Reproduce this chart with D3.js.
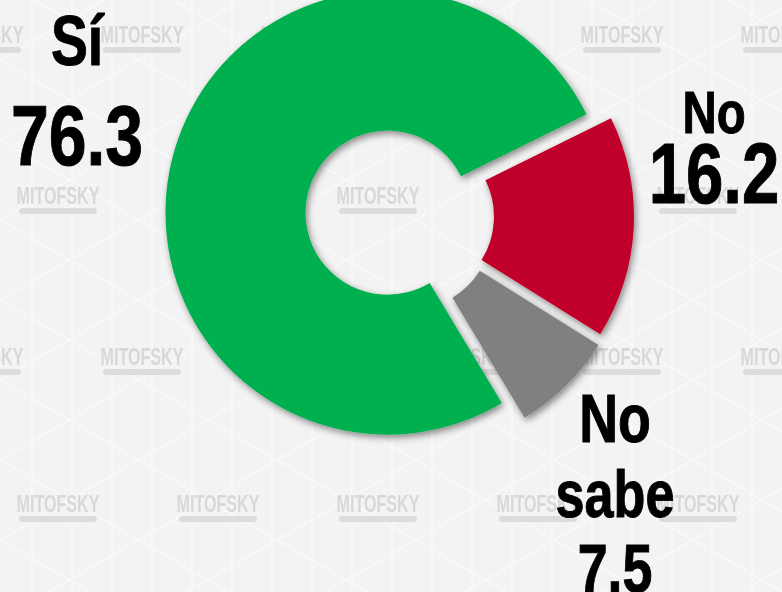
<!DOCTYPE html>
<html>
<head>
<meta charset="utf-8">
<script src="https://cdn.jsdelivr.net/npm/d3@7"></script>
<style>
  html, body { margin: 0; padding: 0; background: #f3f3f3; }
  svg { display: block; }
</style>
</head>
<body>
<svg id="chart" width="782" height="592"></svg>
<script>
// ---- data ----
const categories = ["Sí", "No", "No sabe"];
const values = [76.3, 16.2, 7.5];
const valueLabels = ["76.3", "16.2", "7.5"];
const nameLines = [["Sí"], ["No"], ["No", "sabe"]];
const colors = ["#00B050", "#C00029", "#808080"];
const watermarkText = "MITOFSKY";

// ---- layout ----
const W = 782, H = 592;
const center = [399, 216];
const outerR = 222, innerR = 82;
const startDeg = 149;
const explode = [12, 13, 16];
const xScale = 0.79; // condensed bold face
const labelLayout = [
  { x: 77,  lines: [{ y: 65, size: 70 }, { y: 165, size: 86 }] },
  { x: 714, lines: [{ y: 133, size: 60 }, { y: 203, size: 85 }] },
  { x: 615, lines: [{ y: 442, size: 68 }, { y: 517, size: 66 }, { y: 592, size: 68 }] }
];

const svg = d3.select("#chart");
const defs = svg.append("defs");

const f = defs.append("filter").attr("id", "shadow")
  .attr("x", "-20%").attr("y", "-20%").attr("width", "140%").attr("height", "140%");
f.append("feDropShadow").attr("dx", 2).attr("dy", 3).attr("stdDeviation", 3.5)
  .attr("flood-color", "#000").attr("flood-opacity", 0.45);

const wmBlur = defs.append("filter").attr("id", "wmblur");
wmBlur.append("feGaussianBlur").attr("stdDeviation", 0.6);

// background
svg.append("rect").attr("width", W).attr("height", H).attr("fill", "#f3f3f3");

// faint triangle lattice
const lattice = svg.append("g").attr("stroke", "#ffffff").attr("stroke-width", 1.4).attr("opacity", 0.55);
const step = 80;
const t = Math.tan(Math.PI / 6);
for (let x = 32; x < W; x += step / 2) {
  lattice.append("line").attr("x1", x).attr("y1", 0).attr("x2", x).attr("y2", H);
}
for (let k = -20; k < 30; k++) {
  const y0 = k * step - 20;
  lattice.append("line").attr("x1", 0).attr("y1", y0).attr("x2", W).attr("y2", y0 + W * t);
  lattice.append("line").attr("x1", 0).attr("y1", y0).attr("x2", W).attr("y2", y0 - W * t);
}

// watermarks
const wm = svg.append("g").attr("filter", "url(#wmblur)");
const rowsY = [43, 204, 365, 512];
rowsY.forEach((y, i) => {
  const x0 = i % 2 === 0 ? -18 : 58;
  for (let x = x0; x < W + 80; x += 160) {
    const g = wm.append("g").attr("transform", `translate(${x},${y})`);
    g.append("text")
      .attr("transform", "scale(0.7,1)")
      .attr("text-anchor", "middle")
      .attr("font-family", "'Liberation Sans', Arial, sans-serif")
      .attr("font-weight", "bold")
      .attr("font-size", 23)
      .attr("fill", "#d8d8d8")
      .text(watermarkText);
    g.append("rect").attr("x", -39).attr("y", 4).attr("width", 78).attr("height", 6)
      .attr("rx", 3).attr("fill", "#dcdcdc");
  }
});

// pie
const pie = d3.pie().sort(null)
  .startAngle(startDeg * Math.PI / 180)
  .endAngle(startDeg * Math.PI / 180 + 2 * Math.PI);
const arc = d3.arc().innerRadius(innerR).outerRadius(outerR);
const arcs = pie(values);

const pg = svg.append("g").attr("transform", `translate(${center[0]},${center[1]})`);
pg.selectAll("path").data(arcs).join("path")
  .attr("d", arc)
  .attr("fill", (d, i) => colors[i])
  .attr("filter", "url(#shadow)")
  .attr("transform", (d, i) => {
    const a = (d.startAngle + d.endAngle) / 2;
    return `translate(${Math.sin(a) * explode[i]},${-Math.cos(a) * explode[i]})`;
  });

// labels
categories.forEach((c, i) => {
  const lines = nameLines[i].concat([valueLabels[i]]);
  const L = labelLayout[i];
  lines.forEach((txt, j) => {
    const ln = L.lines[j];
    svg.append("text")
      .attr("transform", `translate(${L.x},${ln.y}) scale(${xScale},1)`)
      .attr("text-anchor", "middle")
      .attr("font-family", "'Liberation Sans', Arial, sans-serif")
      .attr("font-weight", "bold")
      .attr("font-size", ln.size)
      .attr("fill", "#000")
      .attr("stroke", "#000")
      .attr("stroke-width", 1)
      .text(txt);
  });
});
</script>
</body>
</html>
